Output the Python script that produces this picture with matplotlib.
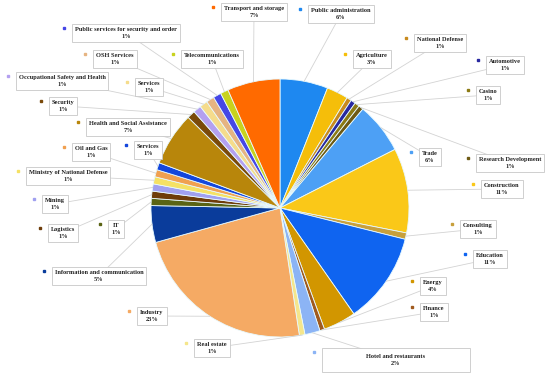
import matplotlib.pyplot as plt
import numpy as np

categories = [
    "Public administration", "Agriculture", "National Defense", "Automotive",
    "Casino", "Research Development", "Trade", "Construction", "Consulting",
    "Education", "Energy", "Finance", "Hotel and restaurants", "Real estate",
    "Industry", "Information and communication", "IT", "Logistics", "Mining",
    "Ministry of National Defense", "Oil and Gas", "Services",
    "Health and Social Assistance", "Security", "Occupational Safety and Health",
    "Services", "OSH Services", "Public services for security and order",
    "Telecommunications", "Transport and storage",
]
values = [
    6.0, 2.7, 0.6, 0.6,
    0.6, 0.6, 6.4, 10.6, 0.8,
    11.4, 4.1, 0.6, 1.9, 0.7,
    23.1, 4.6, 0.9, 0.9, 0.9,
    0.9, 0.9, 0.9,
    6.7, 1.0, 1.0,
    1.0, 1.0, 1.0,
    1.0, 6.6,
]
colors = [
    "#1E88F0", "#F5BE0A", "#C88A1E", "#2828A0",
    "#8C7A14", "#6E5A14", "#4DA0F5", "#FAC818", "#C8A03C",
    "#0F64F0", "#D29600", "#A05A1E", "#8CB4F5", "#F5E68C",
    "#F5AA64", "#0A3C9B", "#5A6414", "#6E3C0A", "#A0A0F0",
    "#F5E164", "#F0A050", "#1446DC",
    "#B8860B", "#7A4A0A", "#B4A0F0",
    "#F5DC8C", "#E6B482", "#4646E6",
    "#C8D21E", "#FF6A00",
]

# label box centres, in pixels from the top-left corner
label_pos = [
    (341, 14), (372, 59), (440, 43), (505, 65),
    (488, 95), (510, 163), (430, 157), (502, 189), (478, 229),
    (490, 259), (433, 286), (434, 312), (396, 360), (212, 348),
    (152, 316), (99, 276), (116, 229), (63, 233), (55, 204),
    (68, 176), (91, 152), (148, 150),
    (128, 127), (63, 106), (62, 81),
    (149, 87), (115, 59), (126, 33),
    (212, 59), (254, 12),
]

W, H = 550, 376
cx, cy, R = 280, H - 208, 129

fig = plt.figure(figsize=(5.5, 3.76), dpi=100)
ax = fig.add_axes([0, 0, 1, 1])
wedges, _ = ax.pie(values, colors=colors, startangle=90, counterclock=False,
                   center=(cx, cy), radius=R,
                   wedgeprops=dict(edgecolor="#E8FAFF", linewidth=0.6))
ax.set_xlim(0, W)
ax.set_ylim(0, H)
ax.set_aspect("equal")
ax.axis("off")

total = sum(values)
texts = []
for i, (name, v) in enumerate(zip(categories, values)):
    lx, ly = label_pos[i][0], H - label_pos[i][1]
    w = wedges[i]
    mid = np.deg2rad((w.theta1 + w.theta2) / 2)
    px, py = cx + R * np.cos(mid), cy + R * np.sin(mid)
    ax.plot([lx, px], [ly, py], color="#D3D3D3", lw=0.6, zorder=3)
    t = ax.text(lx, ly, f"{name}\n{round(v / total * 100)}%", ha="center",
                va="center", fontsize=4.6, fontweight="bold",
                family="Liberation Serif", color="#222222", linespacing=1.5,
                zorder=5,
                bbox=dict(boxstyle="square,pad=0.45", fc="white",
                          ec="#C8C8C8", lw=0.6))
    texts.append(t)

# hotel label sits in a wide box
hx, hy = label_pos[12][0], H - label_pos[12][1]
texts[12].set_bbox(None)
ax.add_patch(plt.Rectangle((hx - 74, hy - 12), 148, 24, fc="white",
                           ec="#C8C8C8", lw=0.6, zorder=4))

fig.canvas.draw()
inv = ax.transData.inverted()
for i, t in enumerate(texts):
    if t.get_bbox_patch() is not None:
        bb = t.get_bbox_patch().get_window_extent()
        x0, y1 = bb.x0, bb.y1
    else:
        x0, y1 = fig.dpi / 100 * (hx - 74), fig.dpi / 100 * (hy + 12)
    mx, my = inv.transform((x0 - 8, y1 - 4))
    ax.plot(mx, my, marker="s", ms=2, color=colors[i], zorder=6)

fig.savefig("out.png", dpi=100)
